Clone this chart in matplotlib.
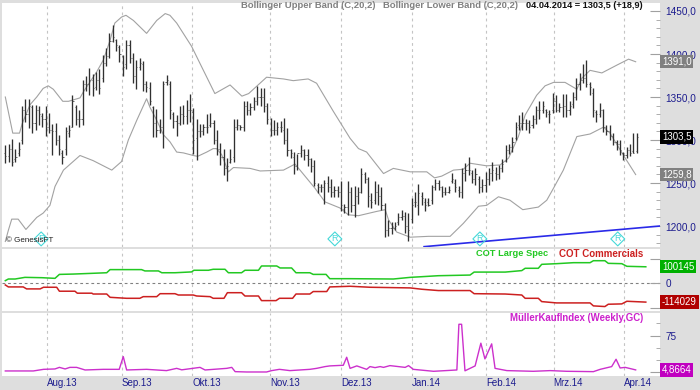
import matplotlib
matplotlib.use('Agg')
import matplotlib.pyplot as plt
import numpy as np
from matplotlib.ticker import FixedLocator

plt.rcParams['font.family'] = ['Liberation Sans', 'DejaVu Sans']

highs = [1294, 1295, 1301, 1290, 1298, 1340, 1348, 1348, 1341, 1341, 1340, 1331, 1340, 1331, 1319, 1320,
         1306, 1288, 1315, 1317, 1352, 1341, 1335, 1370, 1374, 1384, 1377, 1379, 1382, 1399, 1407, 1425,
         1434, 1418, 1410, 1399, 1416, 1416, 1401, 1393, 1395, 1392, 1369, 1367, 1340, 1336, 1325, 1369,
         1376, 1369, 1333, 1329, 1340, 1341, 1346, 1353, 1337, 1324, 1319, 1319, 1330, 1331, 1323, 1312,
         1296, 1290, 1279, 1290, 1324, 1325, 1317, 1345, 1345, 1343, 1350, 1363, 1360, 1360, 1343, 1326,
         1323, 1321, 1322, 1326, 1314, 1290, 1286, 1284, 1294, 1290, 1290, 1279, 1277, 1250, 1249, 1254,
         1258, 1255, 1246, 1246, 1252, 1226, 1252, 1245, 1246, 1245, 1268, 1263, 1257, 1238, 1252, 1249,
         1245, 1227, 1207, 1205, 1205, 1215, 1219, 1216, 1215, 1232, 1240, 1249, 1240, 1232, 1232, 1248,
         1255, 1254, 1246, 1245, 1247, 1262, 1255, 1246, 1267, 1273, 1280, 1265, 1268, 1258, 1255, 1263,
         1267, 1275, 1269, 1271, 1278, 1294, 1295, 1303, 1321, 1329, 1333, 1325, 1323, 1329, 1340, 1345,
         1345, 1336, 1335, 1355, 1352, 1343, 1354, 1354, 1345, 1356, 1372, 1378, 1388, 1393, 1368, 1360,
         1335, 1343, 1336, 1317, 1317, 1308, 1300, 1300, 1286, 1292, 1295, 1308, 1308]
lows = [1273, 1275, 1270, 1275, 1281, 1295, 1321, 1314, 1308, 1312, 1317, 1315, 1305, 1308, 1283, 1294,
        1283, 1272, 1283, 1304, 1315, 1317, 1315, 1317, 1357, 1352, 1351, 1358, 1353, 1368, 1386, 1395,
        1414, 1403, 1391, 1374, 1383, 1389, 1366, 1359, 1381, 1357, 1356, 1341, 1304, 1304, 1308, 1291,
        1364, 1325, 1314, 1305, 1317, 1319, 1319, 1321, 1284, 1277, 1304, 1306, 1308, 1315, 1295, 1283,
        1271, 1259, 1252, 1273, 1274, 1312, 1312, 1310, 1329, 1329, 1335, 1341, 1339, 1333, 1319, 1305,
        1306, 1306, 1309, 1295, 1281, 1279, 1261, 1265, 1280, 1277, 1270, 1263, 1246, 1238, 1240, 1226,
        1240, 1234, 1234, 1234, 1217, 1215, 1213, 1216, 1211, 1226, 1238, 1250, 1222, 1221, 1226, 1225,
        1219, 1187, 1188, 1191, 1195, 1201, 1207, 1192, 1183, 1203, 1222, 1213, 1225, 1218, 1223, 1226,
        1242, 1242, 1234, 1236, 1238, 1250, 1240, 1234, 1232, 1252, 1259, 1250, 1248, 1238, 1239, 1240,
        1248, 1252, 1254, 1255, 1263, 1275, 1284, 1286, 1300, 1312, 1312, 1312, 1308, 1314, 1319, 1325,
        1331, 1327, 1320, 1331, 1332, 1332, 1327, 1327, 1329, 1337, 1347, 1358, 1366, 1362, 1352, 1327,
        1321, 1327, 1309, 1306, 1300, 1294, 1288, 1283, 1277, 1279, 1281, 1285, 1285]
closes = [1281, 1290, 1275, 1280, 1290, 1335, 1330, 1340, 1320, 1335, 1330, 1325, 1315, 1312, 1310, 1300,
          1290, 1280, 1310, 1312, 1345, 1325, 1325, 1365, 1365, 1370, 1360, 1370, 1360, 1390, 1398, 1415,
          1420, 1410, 1400, 1385, 1410, 1395, 1375, 1385, 1390, 1365, 1362, 1345, 1320, 1312, 1315, 1365,
          1370, 1335, 1322, 1320, 1330, 1328, 1335, 1335, 1300, 1310, 1310, 1315, 1315, 1320, 1300, 1290,
          1280, 1268, 1270, 1278, 1315, 1318, 1315, 1340, 1335, 1338, 1345, 1350, 1350, 1340, 1325, 1312,
          1312, 1315, 1315, 1300, 1288, 1285, 1270, 1285, 1288, 1282, 1278, 1270, 1250, 1245, 1245, 1250,
          1245, 1240, 1242, 1240, 1225, 1222, 1240, 1225, 1235, 1240, 1260, 1255, 1235, 1228, 1240, 1235,
          1225, 1195, 1198, 1198, 1200, 1210, 1212, 1200, 1195, 1225, 1228, 1238, 1232, 1225, 1225, 1245,
          1250, 1245, 1240, 1240, 1242, 1255, 1245, 1240, 1262, 1265, 1265, 1255, 1260, 1245, 1248, 1255,
          1262, 1265, 1260, 1268, 1272, 1288, 1292, 1298, 1315, 1320, 1320, 1320, 1315, 1325, 1335, 1335,
          1340, 1332, 1330, 1345, 1335, 1338, 1340, 1335, 1340, 1350, 1365, 1370, 1372, 1365, 1362, 1335,
          1330, 1335, 1315, 1310, 1305, 1298, 1295, 1288, 1282, 1288, 1285, 1285, 1303.5]
opens = [1285, 1281, 1290, 1278, 1285, 1300, 1335, 1330, 1338, 1320, 1335, 1328, 1325, 1315, 1312, 1310,
         1300, 1285, 1290, 1308, 1315, 1338, 1325, 1325, 1365, 1365, 1370, 1362, 1370, 1372, 1390, 1398,
         1415, 1416, 1408, 1398, 1388, 1410, 1395, 1375, 1385, 1388, 1365, 1360, 1338, 1320, 1312, 1315,
         1368, 1365, 1330, 1322, 1320, 1330, 1328, 1335, 1332, 1302, 1310, 1310, 1315, 1318, 1320, 1300,
         1290, 1280, 1268, 1275, 1280, 1315, 1318, 1315, 1340, 1335, 1338, 1345, 1350, 1350, 1340, 1325,
         1312, 1312, 1315, 1312, 1300, 1288, 1280, 1270, 1285, 1288, 1282, 1278, 1270, 1248, 1245, 1245,
         1250, 1245, 1240, 1242, 1240, 1220, 1222, 1240, 1225, 1235, 1240, 1260, 1255, 1230, 1230, 1240,
         1235, 1225, 1195, 1198, 1198, 1205, 1210, 1212, 1200, 1208, 1228, 1225, 1235, 1228, 1228, 1230,
         1245, 1250, 1245, 1240, 1240, 1252, 1250, 1242, 1240, 1262, 1265, 1262, 1255, 1255, 1245, 1248,
         1255, 1262, 1262, 1260, 1268, 1276, 1288, 1292, 1302, 1318, 1320, 1320, 1320, 1318, 1325, 1335,
         1335, 1335, 1330, 1335, 1345, 1335, 1338, 1340, 1335, 1342, 1350, 1365, 1370, 1372, 1365, 1355,
         1333, 1330, 1335, 1315, 1310, 1305, 1298, 1295, 1285, 1282, 1288, 1287, 1287]

upper_x = [0, 2.2, 4.2, 5, 7.3, 9.3, 11.2, 12.7, 14.2, 17, 18.7, 22.1, 23.1, 27, 29, 31, 32.4, 34.4, 35.7, 37.9,
           41.8, 44.8, 47.3, 48.7, 50.7, 55.1, 57.6, 62, 66.5, 70, 72, 77.3, 82.3, 85.2, 89.6, 92.1, 97.1, 102,
           104.5, 106.9, 111.9, 114.8, 119.8, 124.7, 127, 129.1, 132.6, 135.5, 137.5, 142.4, 146.4, 148.9,
           151.8, 153.8, 157.2, 159.7, 162.2, 165.6, 169.1, 170.6, 173, 176.5, 180.9, 184.4, 186.5]
upper = [1350, 1308, 1308, 1319, 1341, 1350, 1360, 1363, 1359, 1345, 1345, 1349, 1356, 1379, 1393, 1416, 1436,
         1443, 1445, 1439, 1424, 1439, 1447, 1445, 1436, 1409, 1389, 1354, 1364, 1351, 1354, 1373, 1371, 1369,
         1371, 1366, 1333, 1302, 1290, 1286, 1261, 1267, 1263, 1263, 1256, 1258, 1265, 1266, 1273, 1270, 1271,
         1279, 1304, 1329, 1352, 1363, 1367, 1367, 1359, 1372, 1381, 1378, 1387, 1394, 1391]
lower_x = [0, 0.9, 1.9, 3.8, 6.1, 9.3, 11.2, 13.2, 14.7, 17.2, 22.1, 26, 31.5, 34.4, 36.4, 38.9, 41.8, 42.8, 44.8,
           46.8, 48.7, 50.7, 52.7, 55.6, 56.9, 59.6, 61.5, 62.5, 64, 66, 67.5, 72.4, 75.4, 82.3, 85.7, 87.2, 91.6,
           94.6, 99, 101.5, 104.5, 109.9, 112.4, 113.4, 115.8, 119.8, 125.2, 131.6, 135.5, 140, 142.4, 145.9,
           149.3, 153.1, 157.7, 160.2, 162.2, 165.1, 169.1, 173, 177, 178.9, 183.4, 186.5]
lower = [1182, 1195, 1208, 1208, 1196, 1210, 1215, 1224, 1246, 1265, 1282, 1276, 1265, 1275, 1300, 1323, 1348,
         1338, 1323, 1306, 1298, 1286, 1285, 1282, 1281, 1286, 1290, 1290, 1283, 1263, 1268, 1267, 1264, 1265,
         1272, 1265, 1244, 1228, 1221, 1213, 1212, 1217, 1219, 1207, 1193, 1187, 1188, 1188, 1203, 1223, 1224,
         1234, 1230, 1219, 1222, 1230, 1244, 1265, 1304, 1307, 1315, 1308, 1279, 1259.8]

trend_x = [123.9, 193.7]
trend = [1176, 1200]
r_marks = [10.6, 97.5, 140.4, 181.2]

green_x = [0, 0.9, 2.9, 5.8, 10.8, 14.7, 16, 20.1, 25.1, 30, 31, 40.3, 41.3, 45.3, 46.3, 50.2, 55.1, 55.8, 60.1,
           61.5, 65, 66, 69.9, 70.9, 74.9, 75.8, 80.3, 81.3, 84.7, 86, 90.1, 91.1, 94.9, 96, 102, 114.8, 119.8,
           123.2, 128.1, 137.5, 138.7, 147.9, 152.8, 153.8, 157.7, 158.7, 163.1, 168.1, 173, 174, 177.4, 178.4,
           182.4, 183.9, 189.5]
green = [16000, 26000, 26000, 36000, 34000, 30000, 54000, 56000, 60000, 64000, 83000, 83000, 75000, 75000, 64000,
         64000, 69000, 79000, 79000, 85000, 85000, 64000, 64000, 79000, 79000, 105000, 105000, 93000, 93000, 64000,
         64000, 54000, 54000, 28000, 28000, 26000, 36000, 40000, 46000, 50000, 68000, 68000, 77000, 91000, 91000,
         115000, 119000, 125000, 125000, 137000, 137000, 121000, 119000, 103000, 100145]
red_x = [0, 0.9, 5.3, 6.3, 10.3, 11.3, 15.2, 16, 20.6, 21.3, 25.6, 26, 30, 31, 35.9, 39.8, 40.8, 44.8, 45.8, 50.2,
         51.2, 55.6, 56.6, 60.6, 61.5, 64.7, 65.7, 69.9, 70.9, 74.9, 75.8, 80.1, 81.1, 85, 86, 90.1, 91.1, 95.1,
         96, 102, 107.9, 119.8, 123.2, 128.1, 137.5, 138.7, 147.9, 152.8, 153.8, 157.7, 158.7, 163.1, 173, 174,
         177.4, 178.4, 182.4, 183.9, 189.5]
red = [-10000, -22000, -22000, -34000, -34000, -24000, -24000, -48000, -48000, -60000, -60000, -65000, -65000,
       -85000, -91000, -91000, -81000, -81000, -63000, -63000, -71000, -71000, -77000, -81000, -91000, -91000,
       -57000, -57000, -77000, -77000, -105000, -105000, -91000, -91000, -65000, -65000, -50000, -50000, -22000,
       -18000, -24000, -28000, -36000, -44000, -44000, -63000, -65000, -71000, -91000, -91000, -111000, -119000,
       -119000, -137000, -141000, -127000, -125000, -109000, -114029]

muller_x = [0, 8.3, 11.3, 14.7, 16, 17.7, 19.1, 21.1, 23.6, 29, 33.7, 34.9, 35.9, 41.8, 47.7, 50.7, 52.2, 57.6, 59.1,
            65.5, 67, 68, 71.4, 77.3, 78.8, 81.1, 84.2, 90.1, 92.1, 94.6, 96, 100, 101, 102, 104, 106.9, 107.9,
            109.4, 110.9, 111.9, 113.8, 118.3, 119.3, 120.7, 126.7, 133.6, 134.2, 135, 136, 139, 140.7, 141.9,
            143.9, 144.9, 148.4, 156.2, 161.2, 166.1, 174, 176, 179.4, 180.7, 181.9, 183.4, 186.5]
muller = [2.7, 2.7, 6, 6.8, 10, 6.8, 10, 10, 4.7, 6, 6, 32, 4.7, 6, 3.4, 8, 5, 10, 4.7, 8, 10, 1.3, 0.6, 0.6, 3.4, 6,
          3.4, 6, 8, 11.6, 13, 14.3, 30.7, 8, 13, 6, 11.6, 9.5, 11.6, 10, 13.6, 10, 13.6, 6, 2, 4.7, 98, 98, 3, 13,
          59.4, 27.3, 58, 8, 3.4, 2, 3.4, 2, 1.3, 6, 11.6, 26.6, 8.8, 10, 4.8664]

month_pos = [12.4, 34.4, 55.3, 78.4, 99.3, 120.2, 142.2, 162.2, 183.1]
month_labels = ['Aug.13', 'Sep.13', 'Okt.13', 'Nov.13', 'Dez.13', 'Jan.14', 'Feb.14', 'Mrz.14', 'Apr.14']

W, H = 700, 390
NAVY = '#1c1c8e'
GRID = '#c4c4c4'


def panel(top, bottom):
    ax = fig.add_axes([2 / W, 1 - bottom / H, 658 / W, (bottom - top) / H])
    ax.set_facecolor('white')
    for s in ax.spines.values():
        s.set_visible(False)
    ax.set_xlim(-0.98, 193.7)
    ax.set_xticks([])
    ax.tick_params(axis='y', which='both', left=False, right=True, labelleft=False, labelright=True,
                   direction='in', color='#a0a0a0', labelcolor=NAVY, labelsize=7.2, pad=4)
    ax.tick_params(axis='y', which='major', length=7, width=0.8)
    ax.tick_params(axis='y', which='minor', length=3, width=0.6)
    for m in month_pos:
        ax.axvline(m, color=GRID, lw=0.8, ls=(0, (2.5, 3)), zorder=0)
    return ax


def tag(ax, value, text, color):
    ax.text(1.003, value, text, transform=ax.get_yaxis_transform(), color='white', fontsize=7.0, va='center', ha='left',
            clip_on=False, zorder=10, bbox=dict(boxstyle='square,pad=0.17', fc=color, ec='none'))


fig = plt.figure(figsize=(7, 3.9), dpi=100, facecolor='#dedede')

ax1 = panel(3, 247)
ax1.set_ylim(1175.6, 1459.3)
bar_x = np.arange(len(highs)) * 0.9936
ax1.vlines(bar_x, lows, highs, color='#303030', lw=0.95, zorder=3)
ax1.hlines(opens, bar_x - 0.33, bar_x, color='#404040', lw=0.55, zorder=3)
ax1.hlines(closes, bar_x, bar_x + 0.33, color='#404040', lw=0.55, zorder=3)
ax1.plot(upper_x, upper, color='#a2a2a2', lw=0.8, zorder=2)
ax1.plot(lower_x, lower, color='#a2a2a2', lw=0.8, zorder=2)
ax1.plot(trend_x, trend, color='#2a2ae8', lw=1.2, zorder=4)
ax1.scatter(r_marks, [1185] * len(r_marks), marker='D', s=50, facecolor='none', edgecolor='#45d8d8', lw=0.8, zorder=5)
for r in r_marks:
    ax1.text(r, 1185, 'R', color='#45d8d8', fontsize=6.5, ha='center', va='center', zorder=5)
ax1.text(4 / 658, 1183, '© GenesisFT', color='#202020', fontsize=5.8, transform=ax1.get_yaxis_transform(),
         ha='left', va='center', zorder=6)
ax1.set_yticks([1200, 1250, 1300, 1350, 1400, 1450])
ax1.set_yticklabels(['1200,0', '1250,0', '1300,0', '1350,0', '1400,0', '1450,0'])
ax1.yaxis.set_minor_locator(FixedLocator(np.arange(1180, 1460, 10)))
tag(ax1, 1391, '1391,0', '#808080')
tag(ax1, 1303.5, '1303,5', '#000000')
tag(ax1, 1259.8, '1259,8', '#808080')

ax2 = panel(249, 311)
ax2.set_ylim(-168000, 208000)
ax2.axhline(0, color='#808080', lw=0.8, ls=(0, (2.5, 2.5)), zorder=1)
ax2.plot(green_x, green, color='#22c822', lw=1.1, zorder=3)
ax2.plot(red_x, red, color='#cc2020', lw=1.1, zorder=3)
ax2.set_yticks([-150000, 0, 150000])
ax2.set_yticklabels(['', '0', ''])
tag(ax2, 100145, '100145', '#00b000')
tag(ax2, -114029, '-114029', '#b00000')

ax3 = panel(313, 376)
ax3.set_ylim(-7.6, 121)
ax3.plot(muller_x, muller, color='#cc30cc', lw=1.0, zorder=3)
ax3.set_yticks([0, 75])
ax3.set_yticklabels(['0', '75'])
ax3.yaxis.set_minor_locator(FixedLocator([25, 50, 100]))
tag(ax3, 4.8664, '4,8664', '#c000c0')


def top_text(x, y, text, color, size, ha='left'):
    fig.text(x / W, 1 - y / H, text, color=color, fontsize=size, fontweight='bold', ha=ha, va='center', zorder=20)


top_text(241, 5.5, 'Bollinger Upper Band (C,20,2)', '#808080', 6.8)
top_text(383, 5.5, 'Bollinger Lower Band (C,20,2)', '#808080', 6.8)
top_text(643, 5.5, '04.04.2014 = 1303,5 (+18,9)', '#101010', 6.6, ha='right')
top_text(476, 254, 'COT Large Spec', '#22c822', 6.7)
top_text(643, 254, 'COT Commercials', '#cc2020', 7.0, ha='right')
top_text(643, 318, 'MüllerKaufIndex (Weekly,GC)', '#cc20cc', 6.9, ha='right')

for m, lab in zip(month_pos, month_labels):
    x_px = 5.3 + 3.38 * m
    fig.text(x_px / W, 1 - 383 / H, lab, color=NAVY, fontsize=7.0, ha='left', va='center')

fig.savefig('out.png', dpi=100, facecolor=fig.get_facecolor())
